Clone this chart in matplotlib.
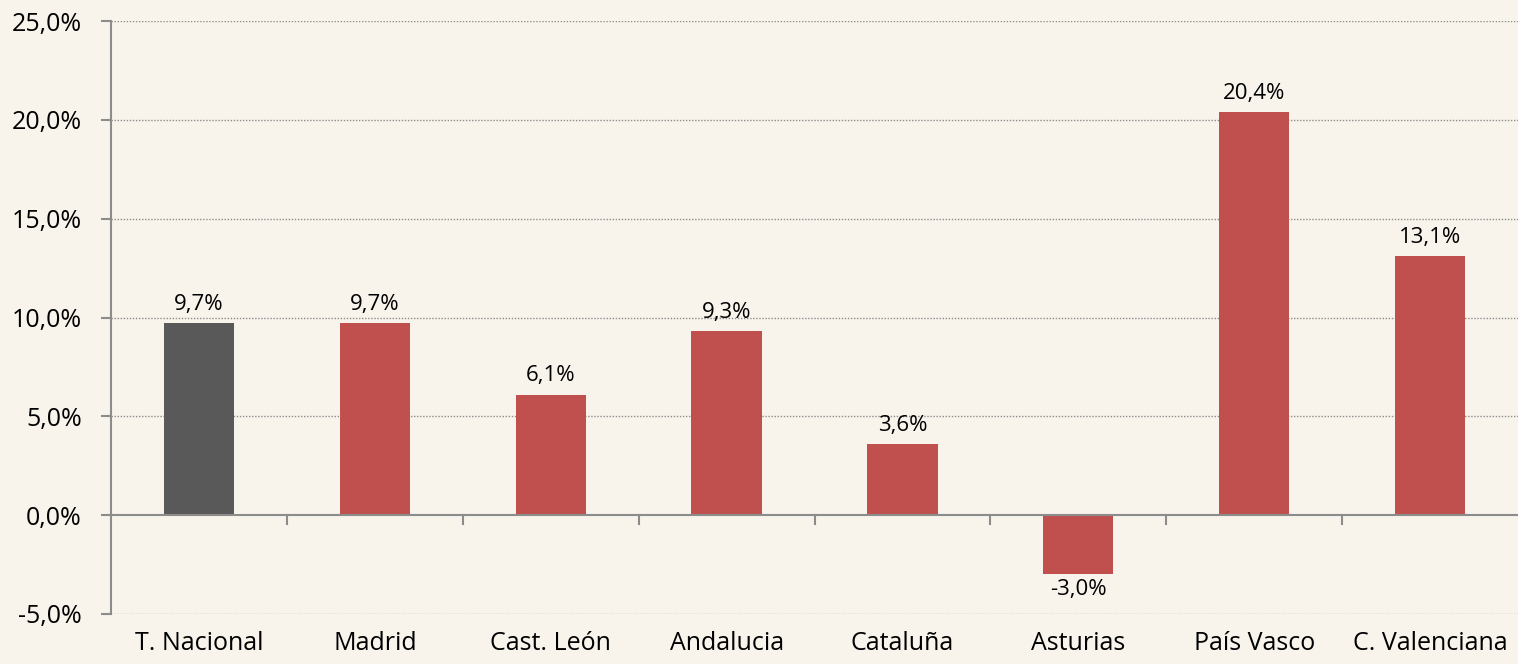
import matplotlib
matplotlib.use("Agg")
import matplotlib.pyplot as plt

categories = ["T. Nacional", "Madrid", "Cast. León", "Andalucia", "Cataluña",
              "Asturias", "País Vasco", "C. Valenciana"]
values = [9.7, 9.7, 6.1, 9.3, 3.6, -3.0, 20.4, 13.1]
bar_colors = ["#595959"] + ["#c0504d"] * 7
yticks = [-5, 0, 5, 10, 15, 20, 25]

plt.rcParams['font.family'] = ['Open Sans', 'DejaVu Sans']

bg = "#f8f4ec"
axis_gray = "#8c8c8c"
fig = plt.figure(figsize=(15.18, 6.64), dpi=100, facecolor=bg)
ax = fig.add_axes([111/1518, 1 - 614/664, (1518 - 111)/1518, (614 - 21)/664])
ax.set_facecolor(bg)

x = list(range(len(categories)))
ax.bar(x, values, width=0.4, color=bar_colors, zorder=3)

ax.set_xlim(-0.5, len(categories) - 0.5)
ax.set_ylim(-5, 25)

for xi, v in zip(x, values):
    lab = f"{v:.1f}%".replace(".", ",")
    if v >= 0:
        ax.annotate(lab, (xi, v), xytext=(0, 6), textcoords="offset points",
                    ha="center", va="bottom", fontsize=16, color="#000000")
    else:
        ax.annotate(lab, (xi, v), xytext=(0, -3), textcoords="offset points",
                    ha="center", va="top", fontsize=16, color="#000000")

# dotted grid lines, except 0 which is the solid axis
for t in yticks:
    if t != 0:
        ax.axhline(t, color=axis_gray, linestyle=(0, (1, 1.2)), linewidth=1.0, zorder=1)
ax.axhline(0, color=axis_gray, linewidth=1.5, zorder=4)

ax.set_yticks(yticks)
ax.set_yticklabels([f"{t:.1f}%".replace(".", ",") for t in yticks], fontsize=18, color="#000000")
ax.tick_params(axis="y", length=7, width=1.5, color=axis_gray, pad=14)

ax.set_xticks(x)
ax.set_xticklabels(categories, fontsize=18, color="#000000")
ax.tick_params(axis="x", which="major", length=0, pad=12)
for b in [i + 0.5 for i in range(len(categories) - 1)]:
    ax.plot([b, b], [0, -0.45], color=axis_gray, linewidth=1.5, zorder=4, clip_on=False)

for s in ["top", "right", "bottom"]:
    ax.spines[s].set_visible(False)
ax.spines["left"].set_color(axis_gray)
ax.spines["left"].set_linewidth(1.5)

fig.savefig("out.png", dpi=100, facecolor=bg)
